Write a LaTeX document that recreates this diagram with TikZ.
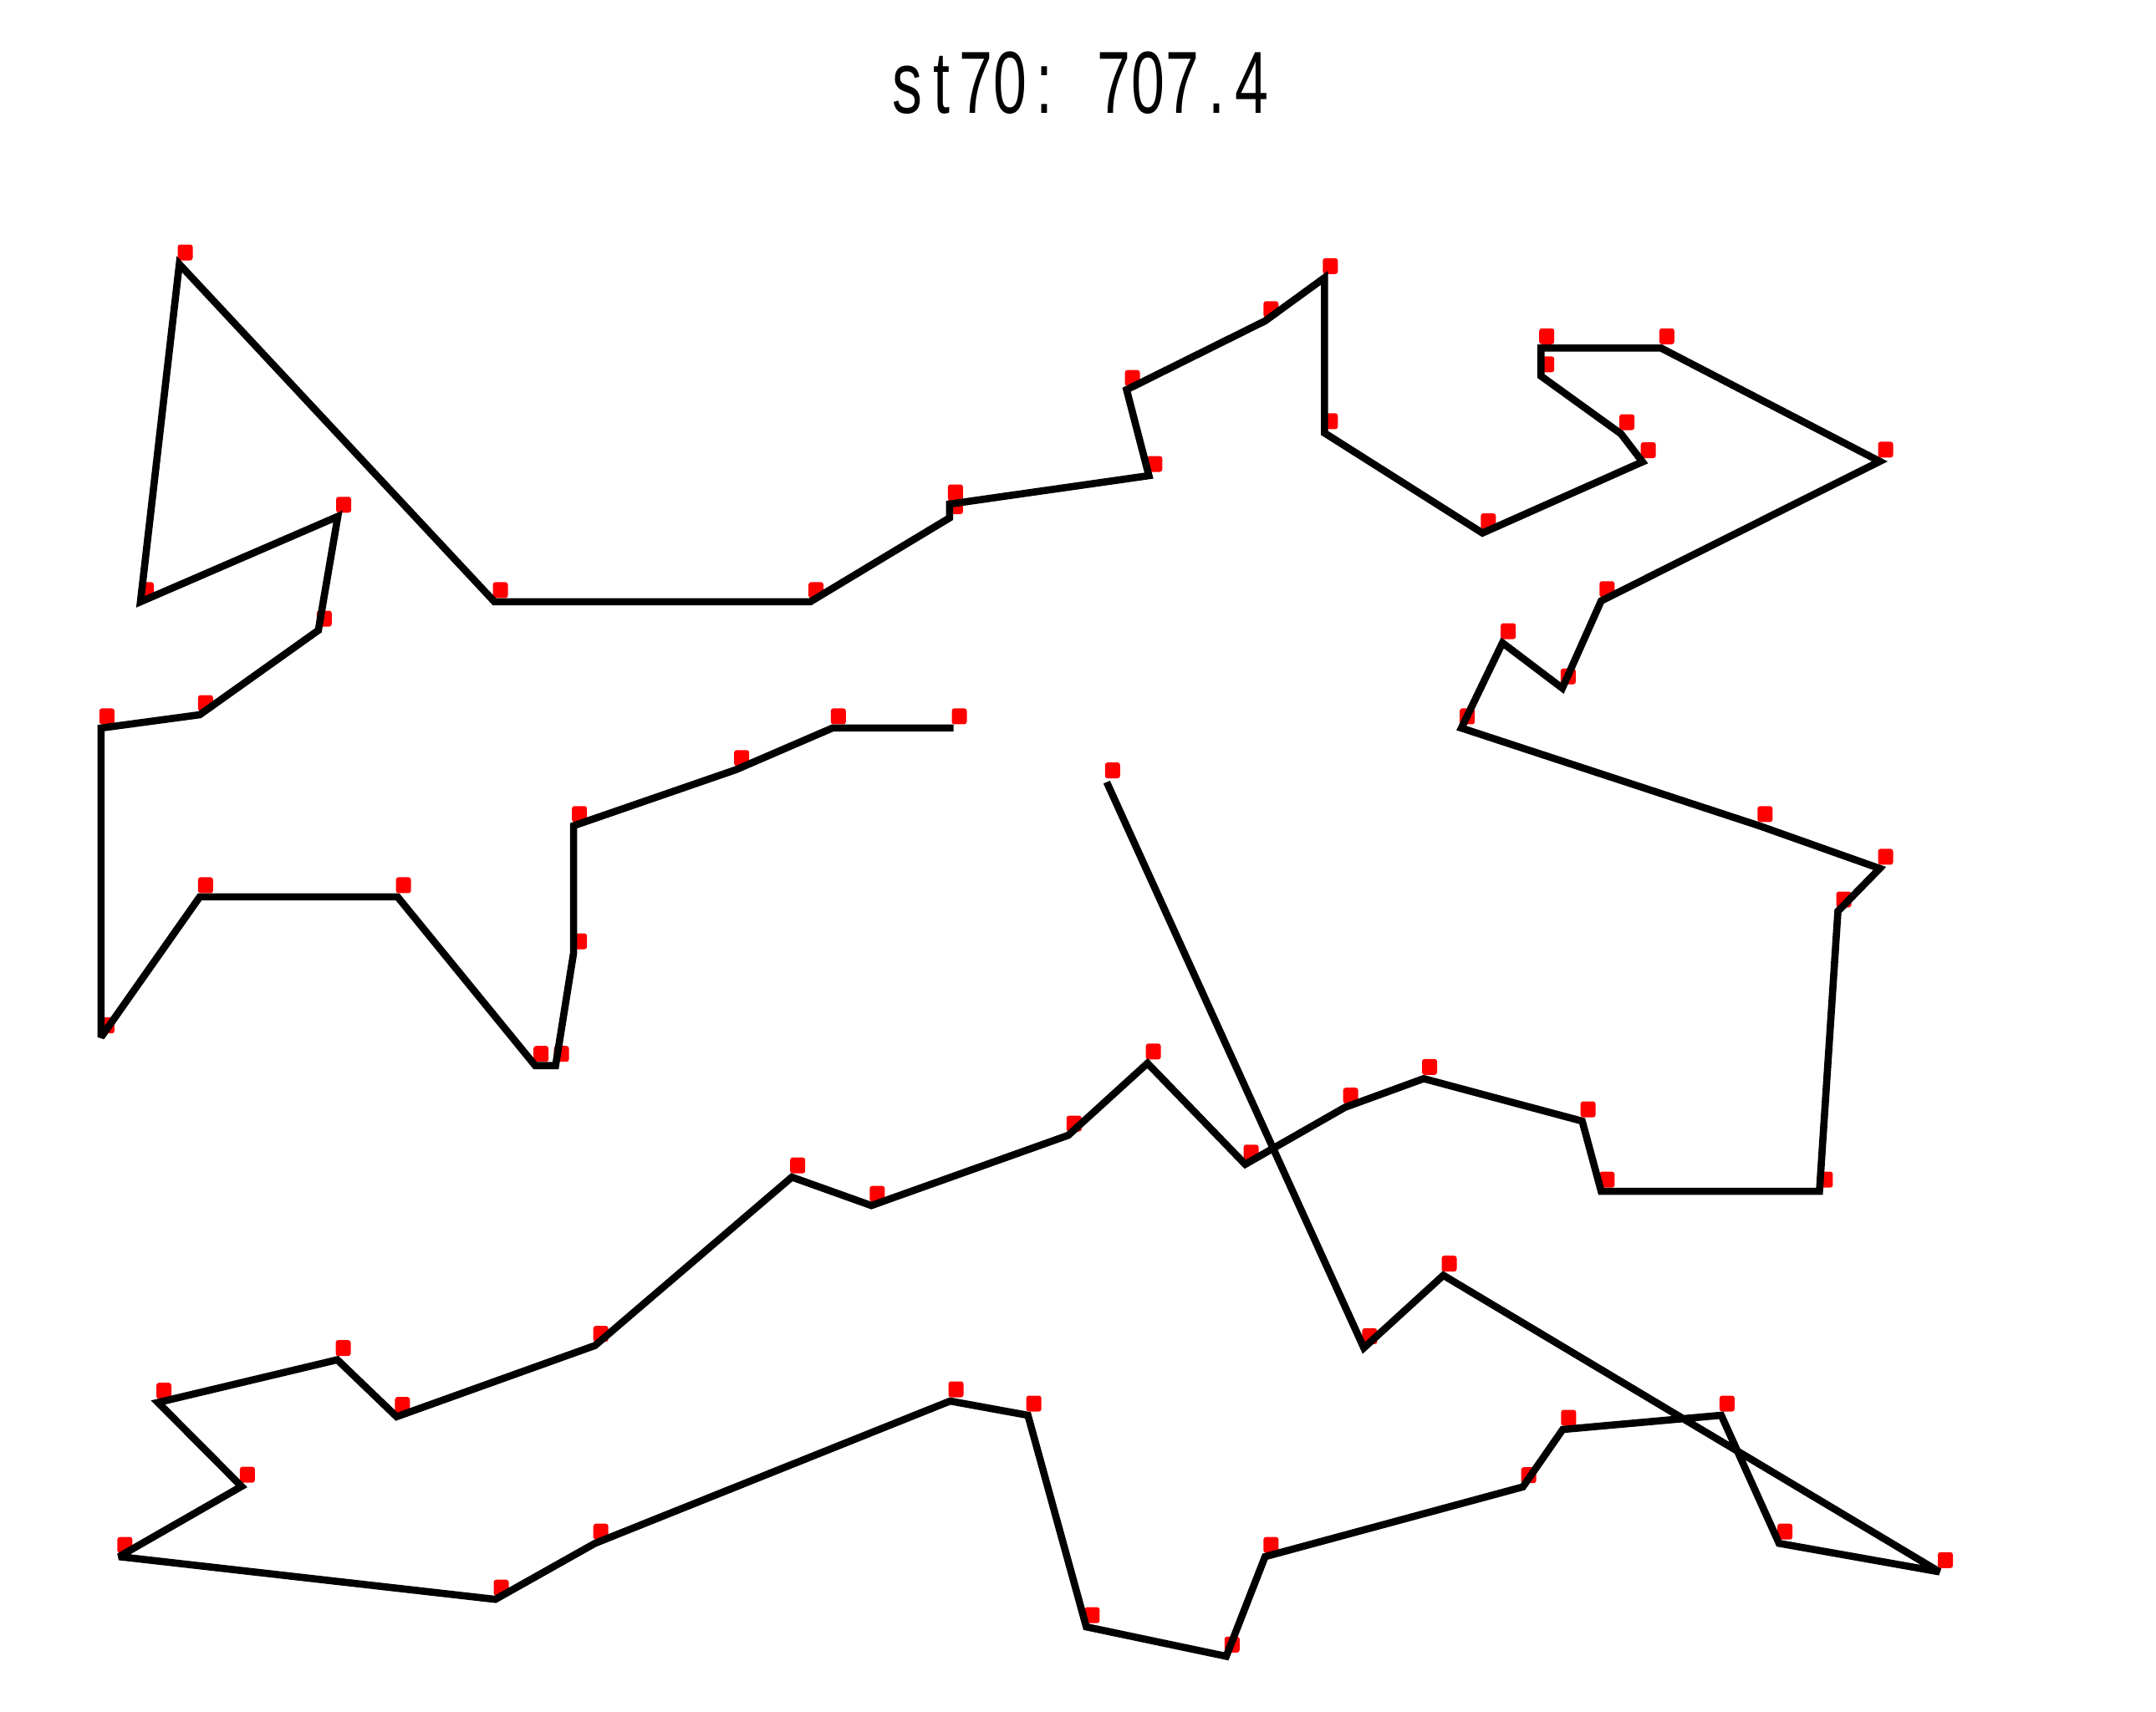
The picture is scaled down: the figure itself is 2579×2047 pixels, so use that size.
\documentclass[tikz,border=0pt]{standalone}
\usepackage{fontspec}
\usepackage{tikz}
\newfontfamily\titlefont[FakeStretch=0.68]{Liberation Sans}
\newcommand\tchar[1]{\makebox[11.72pt][c]{#1}}
\definecolor{markred}{RGB}{255, 0, 0}
\tikzset{
  citymark/.style={fill=markred, inner sep=0pt, minimum width=1.8mm, minimum height=1.9mm, rounded corners=0.3mm, xshift=0.7mm, yshift=1.4mm},
  tour/.style={black, line width=2.45pt, miter limit=3}
}

\begin{document}
\begin{tikzpicture}[x=0.01cm, y=-0.01cm]
            % Frame to ensure alignment:
            \useasboundingbox                                          (   0.0,    0.0) rectangle (2579.0, 2047.0);
            \node[anchor=base, inner sep=0pt, font=\titlefont\fontsize{30}{30}\selectfont] (title) at (1291.0,  135.0)
                 {\tchar{s}\tchar{t}\tchar{7}\tchar{0}\tchar{:}\tchar{ }\tchar{7}\tchar{0}\tchar{7}\tchar{.}\tchar{4}};
            % Cities, in tour order:
            \coordinate (c1)  at (1140.5,  870.9);  \coordinate (c2)  at ( 995.8,  870.9);
            \coordinate (c3)  at ( 880.2,  920.8);  \coordinate (c4)  at ( 686.1,  987.8);
            \coordinate (c5)  at ( 686.1, 1140.0);  \coordinate (c6)  at ( 664.6, 1274.7);
            \coordinate (c7)  at ( 640.2, 1274.7);  \coordinate (c8)  at ( 475.6, 1072.9);
            \coordinate (c9)  at ( 238.9, 1072.9);  \coordinate (c10) at ( 120.9, 1240.7);
            \coordinate (c11) at ( 120.9,  870.9);  \coordinate (c12) at ( 238.9,  855.0);
            \coordinate (c13) at ( 380.8,  754.0);  \coordinate (c14) at ( 404.1,  617.8);
            \coordinate (c15) at ( 168.0,  719.9);  \coordinate (c16) at ( 214.5,  316.0);
            \coordinate (c17) at ( 591.5,  719.9);  \coordinate (c18) at ( 969.1,  719.9);
            \coordinate (c19) at (1135.9,  619.5);  \coordinate (c20) at (1135.9,  603.0);
            \coordinate (c21) at (1374.3,  569.0);  \coordinate (c22) at (1347.6,  466.2);
            \coordinate (c23) at (1513.3,  383.9);  \coordinate (c24) at (1584.3,  332.3);
            \coordinate (c25) at (1584.3,  517.9);  \coordinate (c26) at (1773.3,  637.6);
            \coordinate (c27) at (1964.7,  552.5);  \coordinate (c28) at (1939.1,  519.0);
            \coordinate (c29) at (1843.2,  449.8);  \coordinate (c30) at (1843.2,  416.3);
            \coordinate (c31) at (1986.8,  416.3);  \coordinate (c32) at (2248.5,  551.9);
            \coordinate (c33) at (1915.3,  718.8);  \coordinate (c34) at (1868.8,  823.2);
            \coordinate (c35) at (1797.2,  769.0);  \coordinate (c36) at (1748.1,  870.9);
            \coordinate (c37) at (2104.3,  987.8);  \coordinate (c38) at (2248.5, 1038.9);
            \coordinate (c39) at (2198.5, 1090.0);  \coordinate (c40) at (2176.4, 1425.1);
            \coordinate (c41) at (1915.3, 1425.1);  \coordinate (c42) at (1892.6, 1341.1);
            \coordinate (c43) at (1703.0, 1290.3);  \coordinate (c44) at (1608.7, 1324.7);
            \coordinate (c45) at (1489.5, 1392.8);  \coordinate (c46) at (1372.6, 1271.9);
            \coordinate (c47) at (1277.8, 1358.1);  \coordinate (c48) at (1042.3, 1442.1);
            \coordinate (c49) at ( 947.2, 1408.1);  \coordinate (c50) at ( 711.7, 1609.6);
            \coordinate (c51) at ( 474.4, 1694.7);  \coordinate (c52) at ( 403.5, 1626.6);
            \coordinate (c53) at ( 189.0, 1677.7);  \coordinate (c54) at ( 288.9, 1778.1);
            \coordinate (c55) at ( 142.4, 1862.1);  \coordinate (c56) at ( 592.5, 1913.2);
            \coordinate (c57) at ( 711.7, 1846.2);  \coordinate (c58) at (1136.5, 1676.0);
            \coordinate (c59) at (1229.6, 1693.0);  \coordinate (c60) at (1299.4, 1946.1);
            \coordinate (c61) at (1466.8, 1981.3);  \coordinate (c62) at (1513.3, 1862.1);
            \coordinate (c63) at (1821.6, 1778.7);  \coordinate (c64) at (1869.3, 1710.0);
            \coordinate (c65) at (2058.9, 1693.0);  \coordinate (c66) at (2128.1, 1846.2);
            \coordinate (c67) at (2320.0, 1880.3);  \coordinate (c68) at (1726.5, 1525.6);
            \coordinate (c69) at (1631.4, 1612.4);  \coordinate (c70) at (1323.8,  935.6);
            % Markers first, the tour goes over them:
            \foreach \i in {1,...,70}
                \node[citymark] (m\i) at (c\i) {};
            \draw[tour] (c1) \foreach \i in {2,...,70} { -- (c\i) };
        \end{tikzpicture}
\end{document}
